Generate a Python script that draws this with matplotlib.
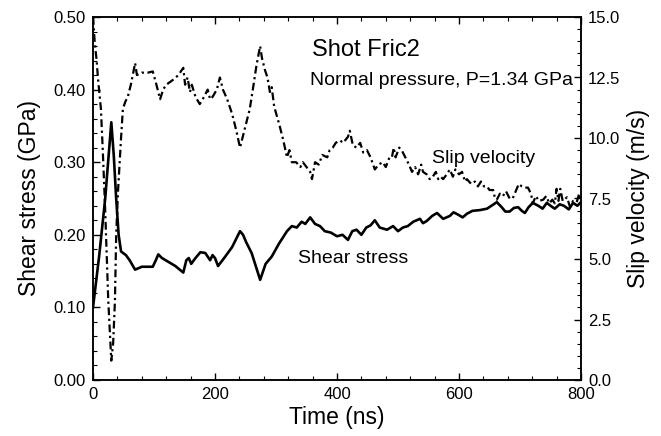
import matplotlib
matplotlib.use('Agg')
import matplotlib.pyplot as plt
from matplotlib.ticker import MultipleLocator

plt.rcParams['font.family'] = ['Liberation Sans', 'DejaVu Sans']

# === data ===
t_stress = [0, 10, 20, 30, 34, 38, 42, 46, 54, 60, 69, 80, 98, 103, 107, 113, 123, 135,
            148, 153, 157, 161, 168, 176, 184, 192, 196, 200, 205, 215, 228, 241, 246,
            251, 260, 274, 283, 293, 305, 318, 326, 334, 342, 348, 356, 364, 372, 380,
            390, 400, 409, 418, 425, 432, 440, 448, 455, 462, 470, 482, 492, 500, 508,
            516, 525, 536, 541, 547, 556, 564, 574, 585, 591, 598, 606, 613, 622, 634,
            646, 655, 662, 670, 676, 683, 690, 697, 703, 708, 714, 721, 730, 737, 744,
            750, 757, 765, 772, 780, 787, 794, 800]
shear_stress = [0.100, 0.170, 0.250, 0.355, 0.310, 0.250, 0.200, 0.177, 0.172, 0.165,
                0.152, 0.156, 0.156, 0.165, 0.173, 0.168, 0.163, 0.157, 0.148, 0.165,
                0.168, 0.160, 0.168, 0.176, 0.175, 0.165, 0.172, 0.168, 0.157, 0.168,
                0.183, 0.205, 0.200, 0.190, 0.175, 0.138, 0.160, 0.170, 0.188, 0.205,
                0.212, 0.210, 0.218, 0.215, 0.224, 0.215, 0.212, 0.205, 0.203, 0.198,
                0.200, 0.193, 0.205, 0.207, 0.200, 0.210, 0.213, 0.220, 0.210, 0.207,
                0.212, 0.205, 0.210, 0.212, 0.218, 0.222, 0.216, 0.219, 0.226, 0.230,
                0.222, 0.226, 0.231, 0.228, 0.224, 0.229, 0.233, 0.234, 0.236, 0.241,
                0.245, 0.238, 0.232, 0.232, 0.237, 0.238, 0.233, 0.230, 0.238, 0.244,
                0.240, 0.236, 0.244, 0.240, 0.236, 0.242, 0.240, 0.235, 0.244, 0.240,
                0.245]

t_slip = [0, 3, 6, 8, 13, 16, 20, 25, 30, 33, 36, 38, 41, 46, 49, 53, 57, 62, 66, 69,
          72, 80, 90, 98, 104, 110, 115, 120, 131, 140, 148, 151, 155, 159, 162, 168,
          175, 182, 188, 192, 196, 203, 208, 213, 220, 228, 235, 241, 246, 251, 257,
          262, 268, 274, 277, 282, 286, 290, 293, 297, 306, 312, 318, 322, 326, 333,
          340, 344, 350, 356, 359, 364, 370, 376, 384, 388, 393, 398, 405, 410, 418,
          421, 426, 432, 438, 443, 449, 455, 462, 468, 475, 480, 486, 490, 493, 496,
          502, 506, 512, 518, 523, 528, 533, 538, 541, 547, 552, 557, 562, 566, 570,
          574, 580, 585, 590, 594, 600, 605, 610, 613, 620, 626, 631, 636, 641, 646,
          650, 656, 659, 662, 667, 672, 677, 683, 688, 693, 698, 703, 708, 713, 718,
          721, 726, 731, 738, 743, 748, 753, 757, 760, 763, 766, 770, 777, 782, 787,
          793, 797, 800]
slip_velocity = [15.0, 13.9, 13.2, 12.5, 11.2, 9.5, 7.0, 3.3, 0.8, 1.5, 3.3, 6.0, 7.8,
                 10.0, 11.2, 11.5, 11.7, 12.2, 12.7, 13.1, 12.6, 12.7, 12.7, 12.75, 12.2,
                 11.6, 12.0, 12.2, 12.4, 12.6, 12.9, 12.2, 12.5, 11.9, 12.2, 11.7, 11.4,
                 11.7, 12.0, 11.6, 11.7, 12.0, 12.5, 12.0, 11.6, 11.0, 10.3, 9.6, 10.1,
                 10.6, 11.2, 12.0, 13.0, 13.8, 13.3, 12.8, 12.5, 11.9, 12.1, 11.3, 10.5,
                 9.9, 9.2, 9.5, 9.0, 9.0, 8.8, 9.0, 8.8, 8.6, 8.3, 9.0, 8.9, 9.3, 9.2,
                 9.5, 9.6, 9.8, 9.9, 9.8, 10.05, 10.3, 9.7, 9.6, 9.8, 9.4, 9.5, 9.2, 8.7,
                 8.9, 9.0, 8.8, 9.2, 9.2, 9.6, 9.2, 9.6, 9.5, 9.2, 8.9, 8.6, 8.8, 8.5,
                 8.9, 8.6, 8.5, 8.3, 8.4, 8.6, 8.3, 8.4, 8.3, 8.5, 8.7, 8.4, 8.7, 8.5,
                 8.6, 8.2, 8.3, 8.1, 8.2, 8.0, 8.2, 8.0, 8.0, 7.85, 7.85, 7.5, 7.45, 7.7,
                 7.6, 7.8, 7.5, 7.5, 7.8, 8.1, 8.0, 7.95, 7.95, 7.7, 7.3, 7.6, 7.4, 7.45,
                 7.6, 7.3, 7.45, 7.3, 7.9, 7.4, 7.9, 7.4, 7.55, 7.15, 7.4, 7.35, 7.7, 7.3]

# === plot ===
fig = plt.figure(figsize=(6.61, 4.36), dpi=100)
ax = fig.add_axes([93/661, 1 - 380/436, (581 - 93)/661, (380 - 17)/436])
ax2 = ax.twinx()

ax.plot(t_stress, shear_stress, color='black', linewidth=1.9, solid_joinstyle='round')
ax2.plot(t_slip, slip_velocity, color='black', linewidth=1.6,
         linestyle=(0, (3.5, 1.6, 1.0, 1.6)))

ax.set_xlim(0, 800)
ax.set_ylim(0, 0.5)
ax2.set_ylim(0, 15)

ax.xaxis.set_major_locator(MultipleLocator(200))
ax.xaxis.set_minor_locator(MultipleLocator(40))
ax.yaxis.set_major_locator(MultipleLocator(0.1))
ax.yaxis.set_minor_locator(MultipleLocator(0.02))
ax2.yaxis.set_major_locator(MultipleLocator(2.5))
ax2.yaxis.set_minor_locator(MultipleLocator(0.5))
ax.yaxis.set_major_formatter('{x:.2f}')
ax2.yaxis.set_major_formatter('{x:.1f}')

ax.tick_params(axis='x', which='both', direction='in', top=True, labelsize=12, pad=5)
ax.tick_params(axis='y', which='both', direction='in', labelsize=12, pad=5)
ax2.tick_params(axis='y', which='both', direction='in', labelsize=12, pad=5)
for a in (ax, ax2):
    a.tick_params(which='major', length=5, width=1)
    a.tick_params(which='minor', length=3, width=0.8)
    for s in a.spines.values():
        s.set_linewidth(1.1)

ax.set_xlabel('Time (ns)', fontsize=16.5, labelpad=3)
ax.set_ylabel('Shear stress (GPa)', fontsize=16.5, labelpad=9)
ax2.set_ylabel('Slip velocity (m/s)', fontsize=16.5, labelpad=5)

ax.text(359, 0.454, 'Shot Fric2', fontsize=17, va='center', ha='left')
ax.text(355, 0.413, 'Normal pressure, P=1.34 GPa', fontsize=14, va='center', ha='left')
ax.text(555, 0.305, 'Slip velocity', fontsize=14, va='center', ha='left')
ax.text(336, 0.168, 'Shear stress', fontsize=14, va='center', ha='left')

fig.savefig('out.png', dpi=100)
